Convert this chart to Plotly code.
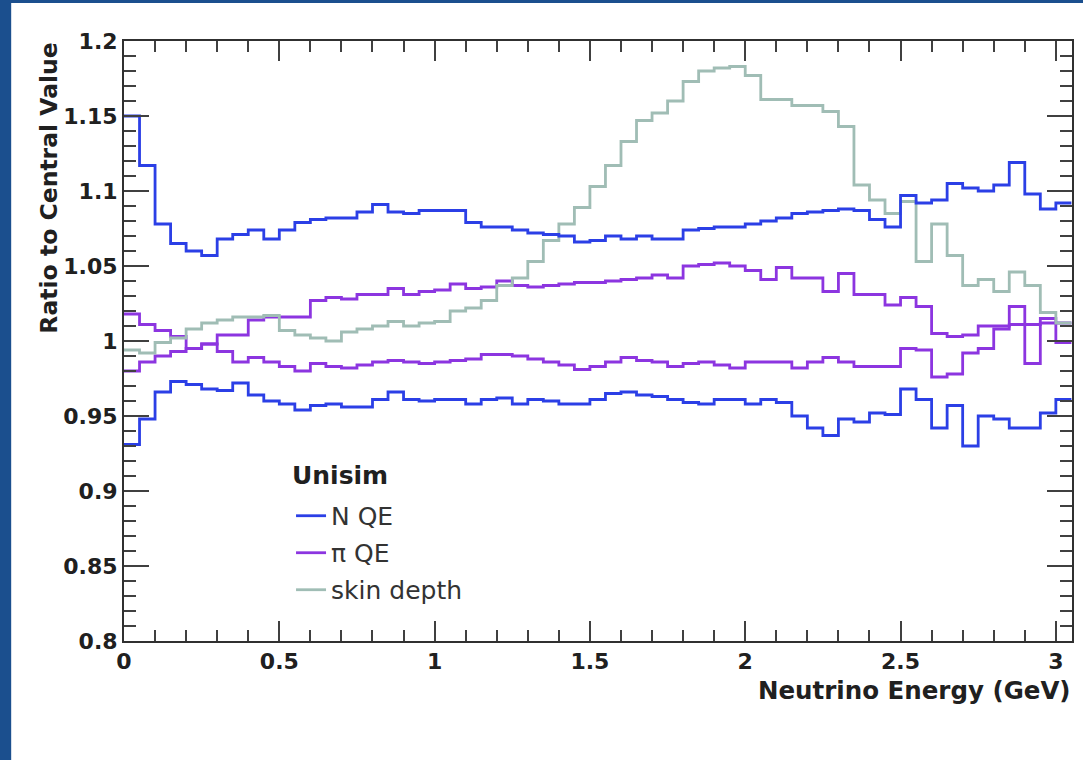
import numpy as np
import plotly.graph_objects as go

# Binning: 61 bins of 0.05 GeV from 0 to 3.05 GeV
BIN_WIDTH = 0.05
N_BINS = 61
bin_edges = np.round(np.arange(N_BINS + 1) * BIN_WIDTH, 4)

# Unisim ratios to the central value, one entry per energy bin
n_qe_up = [1.150, 1.117, 1.078, 1.065, 1.060, 1.057, 1.068, 1.071, 1.074, 1.068,
           1.074, 1.079, 1.081, 1.082, 1.082, 1.086, 1.091, 1.086, 1.085, 1.087,
           1.087, 1.087, 1.079, 1.076, 1.076, 1.074, 1.072, 1.071, 1.070, 1.066,
           1.067, 1.070, 1.068, 1.070, 1.068, 1.068, 1.074, 1.075, 1.076, 1.076,
           1.078, 1.080, 1.082, 1.085, 1.086, 1.087, 1.088, 1.087, 1.081, 1.076,
           1.097, 1.092, 1.094, 1.105, 1.102, 1.100, 1.104, 1.119, 1.098, 1.088,
           1.092]
n_qe_down = [0.931, 0.948, 0.966, 0.973, 0.971, 0.968, 0.967, 0.972, 0.964, 0.960,
             0.958, 0.954, 0.957, 0.958, 0.956, 0.956, 0.961, 0.966, 0.961, 0.960,
             0.961, 0.961, 0.958, 0.961, 0.962, 0.958, 0.961, 0.960, 0.958, 0.958,
             0.961, 0.965, 0.966, 0.964, 0.963, 0.961, 0.959, 0.958, 0.961, 0.961,
             0.958, 0.961, 0.959, 0.950, 0.942, 0.937, 0.948, 0.946, 0.952, 0.951,
             0.968, 0.961, 0.942, 0.957, 0.930, 0.950, 0.948, 0.942, 0.942, 0.952,
             0.961]
pi_qe_up = [0.980, 0.986, 0.990, 0.993, 0.995, 0.998, 1.004, 1.004, 1.014, 1.016,
            1.016, 1.016, 1.027, 1.029, 1.028, 1.031, 1.031, 1.035, 1.031, 1.033,
            1.034, 1.038, 1.035, 1.036, 1.040, 1.037, 1.036, 1.037, 1.038, 1.039,
            1.039, 1.040, 1.041, 1.042, 1.044, 1.042, 1.050, 1.051, 1.052, 1.050,
            1.047, 1.041, 1.049, 1.042, 1.042, 1.033, 1.045, 1.031, 1.031, 1.024,
            1.029, 1.023, 1.005, 1.003, 1.004, 1.010, 1.010, 1.011, 1.011, 1.012,
            1.012]
pi_qe_down = [1.018, 1.011, 1.007, 1.003, 0.995, 0.998, 0.993, 0.986, 0.989, 0.986,
              0.983, 0.980, 0.985, 0.983, 0.982, 0.984, 0.986, 0.987, 0.986, 0.985,
              0.986, 0.987, 0.988, 0.991, 0.991, 0.990, 0.988, 0.986, 0.984, 0.981,
              0.983, 0.986, 0.989, 0.987, 0.986, 0.983, 0.985, 0.986, 0.984, 0.982,
              0.986, 0.986, 0.986, 0.982, 0.986, 0.989, 0.986, 0.983, 0.983, 0.983,
              0.995, 0.994, 0.976, 0.978, 0.992, 0.995, 1.008, 1.023, 0.985, 1.015,
              0.999]
skin_depth = [0.994, 0.992, 0.999, 1.002, 1.008, 1.012, 1.014, 1.016, 1.016, 1.017,
              1.007, 1.004, 1.002, 1.000, 1.006, 1.008, 1.010, 1.013, 1.010, 1.012,
              1.013, 1.020, 1.022, 1.027, 1.037, 1.042, 1.053, 1.067, 1.078, 1.089,
              1.103, 1.117, 1.133, 1.147, 1.152, 1.160, 1.173, 1.180, 1.182, 1.183,
              1.177, 1.161, 1.161, 1.157, 1.157, 1.153, 1.143, 1.104, 1.094, 1.085,
              1.093, 1.053, 1.078, 1.057, 1.037, 1.041, 1.033, 1.046, 1.037, 1.019,
              1.012]

x_ticks = [0, 0.5, 1, 1.5, 2, 2.5, 3]
x_tick_text = ["0", "0.5", "1", "1.5", "2", "2.5", "3"]
y_ticks = [0.8, 0.85, 0.9, 0.95, 1.0, 1.05, 1.1, 1.15, 1.2]
y_tick_text = ["0.8", "0.85", "0.9", "0.95", "1", "1.05", "1.1", "1.15", "1.2"]

BLUE = "#2b3fe6"
PURPLE = "#8c35e0"
SAGE = "#a0bdb5"
INK = "#202020"
FONT = "DejaVu Sans"


def step_trace(values, color, name, group, show, rank):
    # histogram outline: each bin drawn flat from its low edge to its high edge
    y = list(values) + [values[-1]]
    return go.Scatter(
        x=bin_edges, y=y, mode="lines", line=dict(color=color, width=2.8, shape="hv"),
        name=name, legendgroup=group, showlegend=show, legendrank=rank,
        hoverinfo="skip",
    )


fig = go.Figure()
fig.add_trace(step_trace(pi_qe_up, PURPLE, "π QE", "pi", True, 2))
fig.add_trace(step_trace(pi_qe_down, PURPLE, "π QE", "pi", False, 2))
fig.add_trace(step_trace(skin_depth, SAGE, "skin depth", "skin", True, 3))
fig.add_trace(step_trace(n_qe_up, BLUE, "N QE", "nqe", True, 1))
fig.add_trace(step_trace(n_qe_down, BLUE, "N QE", "nqe", False, 1))

axis_common = dict(
    showline=True, linewidth=2, linecolor="#303030", mirror="ticks",
    ticks="inside", tickcolor="#404040", tickwidth=1.5,
    showgrid=False, zeroline=False,
    tickfont=dict(family=FONT, size=22, color=INK, weight="bold"),
)

fig.update_xaxes(
    range=[0, 3.052], tickmode="array", tickvals=x_ticks, ticktext=x_tick_text,
    ticklen=20,
    minor=dict(dtick=0.1, tick0=0, ticks="inside", ticklen=11, tickwidth=1.5,
               tickcolor="#404040", showgrid=False),
    **axis_common,
)
fig.update_yaxes(
    range=[0.8, 1.2], tickmode="array", tickvals=y_ticks, ticktext=y_tick_text,
    ticklen=25,
    minor=dict(dtick=0.01, tick0=0.8, ticks="inside", ticklen=12, tickwidth=1.5,
               tickcolor="#404040", showgrid=False),
    **axis_common,
)

fig.update_layout(
    width=1083, height=760,
    margin=dict(l=124, r=9, t=41, b=119),
    paper_bgcolor="#1b4f8e",
    plot_bgcolor="white",
    showlegend=True,
    legend=dict(
        x=0.1762, y=0.2467, xanchor="left", yanchor="top",
        bgcolor="rgba(0,0,0,0)", borderwidth=0,
        font=dict(family=FONT, size=25, color="#333"),
        itemwidth=30, tracegroupgap=1.5,
    ),
    shapes=[
        # white slide panel behind the plot
        dict(type="rect", xref="paper", yref="paper", layer="below",
             x0=-0.119, x1=1.03, y0=-0.21, y1=1.0633,
             fillcolor="white", line=dict(width=0)),
    ],
    annotations=[
        # legend header
        dict(text="Unisim", xref="paper", yref="paper",
             x=(290 - 124) / 950, y=(641 - 475) / 600, xanchor="left", yanchor="middle",
             showarrow=False,
             font=dict(family=FONT, size=25, color=INK, weight="bold")),
        dict(text="Neutrino Energy (GeV)", xref="paper", yref="paper",
             x=1.001, y=-0.0817, xanchor="right", yanchor="middle", showarrow=False,
             font=dict(family=FONT, size=24.5, color=INK, weight="bold")),
        dict(text="Ratio to Central Value", xref="paper", yref="paper",
             x=-0.08, y=1.0, xanchor="center", yanchor="top", textangle=-90,
             showarrow=False,
             font=dict(family=FONT, size=23.5, color=INK, weight="bold")),
    ],
)

fig.write_html("out.html")
